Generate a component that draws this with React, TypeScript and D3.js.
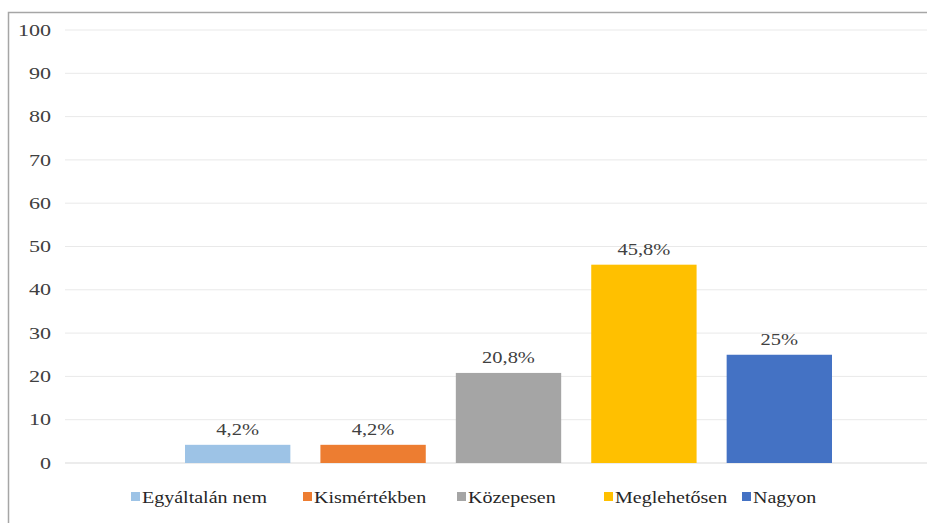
import React from "react";
import * as d3 from "d3";

const categories = ["Egyáltalán nem", "Kismértékben", "Közepesen", "Meglehetősen", "Nagyon"];
const values = [4.2, 4.2, 20.8, 45.8, 25];
const valueLabels = ["4,2%", "4,2%", "20,8%", "45,8%", "25%"];
const colors = ["#9DC3E6", "#ED7D31", "#A5A5A5", "#FFC000", "#4472C4"];
const yTicks = [0, 10, 20, 30, 40, 50, 60, 70, 80, 90, 100];
const legendX = [131, 303, 457, 604, 742];

export default function App() {
  const W = 927, H = 523;
  const left = 65, top = 30, bottom = 463;
  const y = d3.scaleLinear().domain([0, 100]).range([bottom, top]);
  const x = d3.scaleBand<string>().domain(categories).range([185, 832]).paddingInner(0.222).paddingOuter(0);
  const font = "'Times New Roman', Times, 'Liberation Serif', 'DejaVu Serif', serif";
  const sx = 1.28;
  return (
    <svg width={W} height={H} style={{ position: "absolute", left: 0, top: 0, background: "#fff", fontFamily: font }}>
      <rect x={8.5} y={12.5} width={W + 10} height={H + 10} fill="#fff" stroke="#a6a6a6" strokeWidth={1.5} />
      {yTicks.map((t) => (
        <g key={t}>
          <line x1={left} x2={W} y1={y(t)} y2={y(t)} stroke={t === 0 ? "#d9d9d9" : "#e9e9e9"} strokeWidth={1} />
          <text transform={`translate(51,${y(t)}) scale(1.38,1)`} dy="0.35em" textAnchor="end" fontSize={16} fill="#404040" style={{ fontFamily: font }}>{t}</text>
        </g>
      ))}
      {categories.map((c, i) => (
        <g key={c}>
          <rect x={x(c)} y={y(values[i])} width={x.bandwidth()} height={y(0) - y(values[i])} fill={colors[i]} />
          <text transform={`translate(${(x(c) as number) + x.bandwidth() / 2},${y(values[i]) - 10}) scale(${sx},1)`} textAnchor="middle" fontSize={16} fill="#404040" style={{ fontFamily: font }}>{valueLabels[i]}</text>
        </g>
      ))}
      {categories.map((c, i) => (
        <g key={"l" + c}>
          <rect x={legendX[i]} y={492} width={9} height={9} fill={colors[i]} />
          <text transform={`translate(${legendX[i] + 11},497) scale(1.25,1)`} dy="0.35em" fontSize={16} fill="#262626" style={{ fontFamily: font }}>{c}</text>
        </g>
      ))}
    </svg>
  );
}
